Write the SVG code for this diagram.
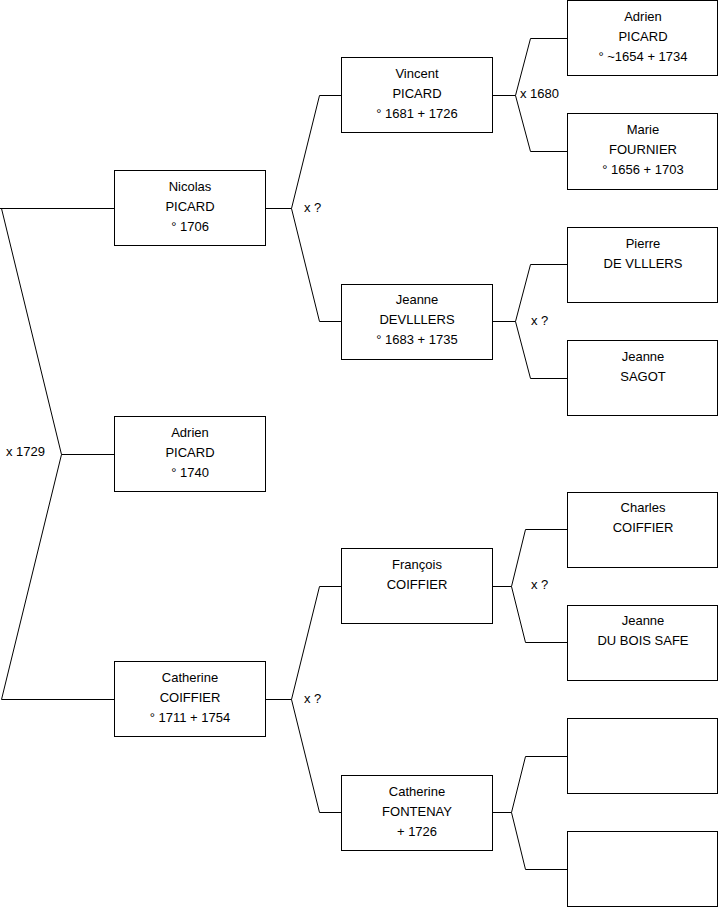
<svg xmlns="http://www.w3.org/2000/svg" width="719" height="908" viewBox="0 0 719 908">
<style>
.box{fill:#fff;stroke:#000;stroke-width:1}
.c{fill:none;stroke:#000;stroke-width:1}
text{font-family:"Liberation Sans",Arial,sans-serif;font-size:13px;fill:#000}
.n text{text-anchor:middle}
</style>
<rect width="719" height="908" fill="#fff"/>
<g id="connectors">
<path class="c" d="M61.5,454.5 L1.5,208.5 M0,208.5 H114.5 M61.5,454.5 H114.5 M61.5,454.5 L1.5,699.5 H114.5"/>
<path class="c" d="M265.5,208.5 H291.5 L319.5,95.5 H341.5 M291.5,208.5 L319.5,321.5 H341.5"/>
<path class="c" d="M265.5,699.5 H291.5 L319.5,586.5 H341.5 M291.5,699.5 L319.5,812.5 H341.5"/>
<path class="c" d="M492.5,95.5 H515.5 L530.5,38.5 H567.5 M515.5,95.5 L530.5,151.5 H567.5"/>
<path class="c" d="M492.5,321.5 H515.5 L530.5,264.5 H567.5 M515.5,321.5 L530.5,378.5 H567.5"/>
<path class="c" d="M492.5,586.5 H511.5 L525.5,529.5 H567.5 M511.5,586.5 L525.5,642.5 H567.5"/>
<path class="c" d="M492.5,812.5 H511.5 L525.5,756.5 H567.5 M511.5,812.5 L525.5,869.5 H567.5"/>
<text x="6" y="455.5">x 1729</text>
<text x="304" y="211.5">x ?</text>
<text x="304" y="703">x ?</text>
<text x="520" y="97.5">x 1680</text>
<text x="531" y="324.5">x ?</text>
<text x="531" y="589">x ?</text>
</g>
<g id="n-nicolas" class="n"><rect class="box" x="114.5" y="170.5" width="151" height="75"/><text x="190" y="191">Nicolas</text><text x="190" y="211">PICARD</text><text x="190" y="231">° 1706</text></g>
<g id="n-adrien1740" class="n"><rect class="box" x="114.5" y="416.5" width="151" height="75"/><text x="190" y="437">Adrien</text><text x="190" y="457">PICARD</text><text x="190" y="477">° 1740</text></g>
<g id="n-catherine-coiffier" class="n"><rect class="box" x="114.5" y="661.5" width="151" height="75"/><text x="190" y="682">Catherine</text><text x="190" y="702">COIFFIER</text><text x="190" y="722">° 1711 + 1754</text></g>
<g id="n-vincent" class="n"><rect class="box" x="341.5" y="57.5" width="151" height="75"/><text x="417" y="78">Vincent</text><text x="417" y="98">PICARD</text><text x="417" y="118">° 1681 + 1726</text></g>
<g id="n-jeanne-devlllers" class="n"><rect class="box" x="341.5" y="284.5" width="151" height="75"/><text x="417" y="304">Jeanne</text><text x="417" y="324">DEVLLLERS</text><text x="417" y="344">° 1683 + 1735</text></g>
<g id="n-francois" class="n"><rect class="box" x="341.5" y="548.5" width="151" height="75"/><text x="417" y="569">François</text><text x="417" y="589">COIFFIER</text></g>
<g id="n-catherine-fontenay" class="n"><rect class="box" x="341.5" y="775.5" width="151" height="75"/><text x="417" y="796">Catherine</text><text x="417" y="816">FONTENAY</text><text x="417" y="836">+ 1726</text></g>
<g id="n-adrien1654" class="n"><rect class="box" x="567.5" y="0.5" width="150" height="75"/><text x="643" y="21">Adrien</text><text x="643" y="41">PICARD</text><text x="643" y="61">° ~1654 + 1734</text></g>
<g id="n-marie" class="n"><rect class="box" x="567.5" y="113.5" width="150" height="76"/><text x="643" y="134">Marie</text><text x="643" y="154">FOURNIER</text><text x="643" y="174">° 1656 + 1703</text></g>
<g id="n-pierre" class="n"><rect class="box" x="567.5" y="227.5" width="150" height="75"/><text x="643" y="248">Pierre</text><text x="643" y="268">DE VLLLERS</text></g>
<g id="n-jeanne-sagot" class="n"><rect class="box" x="567.5" y="340.5" width="150" height="75"/><text x="643" y="361">Jeanne</text><text x="643" y="381">SAGOT</text></g>
<g id="n-charles" class="n"><rect class="box" x="567.5" y="492.5" width="150" height="75"/><text x="643" y="512">Charles</text><text x="643" y="532">COIFFIER</text></g>
<g id="n-jeanne-dubois" class="n"><rect class="box" x="567.5" y="605.5" width="150" height="75"/><text x="643" y="625">Jeanne</text><text x="643" y="645">DU BOIS SAFE</text></g>
<g id="n-empty1" class="n"><rect class="box" x="567.5" y="718.5" width="150" height="75"/></g>
<g id="n-empty2" class="n"><rect class="box" x="567.5" y="831.5" width="150" height="75"/></g>
</svg>
